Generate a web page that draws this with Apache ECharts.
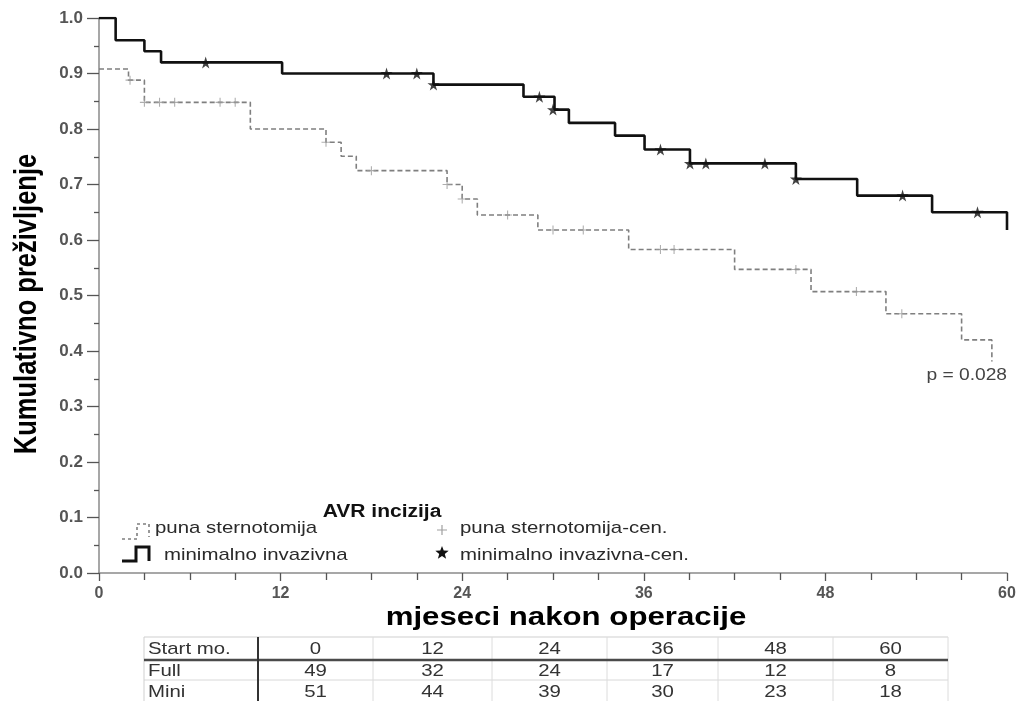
<!DOCTYPE html>
<html>
<head>
<meta charset="utf-8">
<script src="https://cdn.jsdelivr.net/npm/echarts@6/dist/echarts.min.js"></script>
<style>html,body{margin:0;padding:0;background:#fff}#c{width:1020px;height:701px}</style>
</head>
<body>
<div id="c"></div>
<script>
// ---------- data ----------
const xTicks = [0, 12, 24, 36, 48, 60];
// Kaplan-Meier steps: [month, survival after that month]
const fullSteps = [[0,0.908],[1.95,0.888],[3.0,0.848],[10.0,0.800],[15.0,0.776],[16.0,0.751],[17.0,0.725],[23.0,0.700],[24.0,0.674],[25.0,0.645],[29.0,0.618],[35.0,0.583],[42.0,0.547],[47.05,0.507],[52.0,0.467],[57.0,0.420],[59.0,0.381]];
const miniSteps = [[0,1.0],[1.1,0.960],[3.0,0.940],[4.1,0.920],[12.1,0.900],[22.1,0.880],[28.05,0.858],[30.1,0.835],[31.05,0.811],[34.1,0.788],[36.05,0.763],[39.05,0.738],[46.05,0.710],[50.1,0.680],[55.05,0.650],[60.0,0.618]];
const fullCensored = [[2.05,0.888],[3.0,0.848],[4.0,0.848],[5.0,0.848],[8.0,0.848],[9.0,0.848],[15.0,0.776],[18.0,0.725],[23.0,0.700],[24.0,0.674],[27.0,0.645],[30.0,0.618],[32.0,0.618],[37.1,0.583],[38.0,0.583],[46.05,0.547],[50.05,0.507],[53.05,0.467]];
const miniCensored = [[7.05,0.920],[19.0,0.900],[21.0,0.900],[22.1,0.880],[29.1,0.858],[30.0,0.835],[37.1,0.763],[39.05,0.738],[40.1,0.738],[44.0,0.738],[46.05,0.710],[53.1,0.680],[58.05,0.650]];
const tableHeader = ['Start mo.', '0', '12', '24', '36', '48', '60'];
const tableFull = ['Full', 49, 32, 24, 17, 12, 8];
const tableMini = ['Mini', 51, 44, 39, 30, 23, 18];
const seriesNames = ['puna sternotomija', 'minimalno invazivna', 'puna sternotomija-cen.', 'minimalno invazivna-cen.'];
const legendTitle = 'AVR incizija';
const pText = 'p = 0.028';
const xTitle = 'mjeseci nakon operacije';
const yTitle = 'Kumulativno preživljenje';

// ---------- styles ----------
const SX = 1.2; // horizontal stretch of the reference's texts
const starPath = 'path://M50,0 L61,35 L98,35 L68,57 L79,91 L50,70 L21,91 L32,57 L2,35 L39,35 Z';
const crossPath = 'path://M4.4,0 L5.6,0 L5.6,4.4 L10,4.4 L10,5.6 L5.6,5.6 L5.6,10 L4.4,10 L4.4,5.6 L0,5.6 L0,4.4 L4.4,4.4 Z';
const FONT = '"Liberation Sans", Arial, sans-serif';

function starPoints(cx, cy, R) {
  const pts = [];
  for (let i = 0; i < 10; i++) {
    const r = i % 2 === 0 ? R : R * 0.42;
    const a = -Math.PI / 2 + i * Math.PI / 5;
    pts.push([cx + r * Math.cos(a), cy + r * Math.sin(a)]);
  }
  return pts;
}
function crossPoints(cx, cy, h, t) {
  return [[cx - t, cy - h], [cx + t, cy - h], [cx + t, cy - t], [cx + h, cy - t], [cx + h, cy + t], [cx + t, cy + t],
          [cx + t, cy + h], [cx - t, cy + h], [cx - t, cy + t], [cx - h, cy + t], [cx - h, cy - t], [cx - t, cy - t]];
}

const chart = echarts.init(document.getElementById('c'));

const graphics = [];
function txt(x, y, s, o, extra) {
  graphics.push(Object.assign({
    type: 'text', x: x, y: y, scaleX: SX, z: 10,
    style: Object.assign({ text: String(s), font: '17px ' + FONT, fill: '#2a2a2a', textAlign: 'left', textVerticalAlign: 'middle' }, o || {})
  }, extra || {}));
}
function line(pts, stroke, w, dash) {
  graphics.push({ type: 'polyline', z: 10, shape: { points: pts }, style: { stroke: stroke, lineWidth: w, fill: null, lineDash: dash || null } });
}

// y title (rotated, glyphs stretched like the reference)
txt(28, 304, yTitle, { font: 'bold 25.5px ' + FONT, fill: '#000', textAlign: 'center' }, { rotation: Math.PI / 2, scaleX: 1, scaleY: 1.2 });
// x title
txt(566, 618, xTitle, { font: 'bold 26px ' + FONT, fill: '#000', textAlign: 'center' });
// p-value
txt(1007, 376, pText, { font: '16px ' + FONT, fill: '#444', textAlign: 'right' });

// legend
txt(382, 512, legendTitle, { font: 'bold 17.5px ' + FONT, fill: '#111', textAlign: 'center' });
line([[122, 539], [137, 539], [137, 524], [146, 524], [149, 524], [149, 537]], '#7f7f7f', 1.6, [3, 3]);
txt(155, 528, seriesNames[0]);
line([[122, 561], [136, 561], [136, 547], [149, 547], [149, 561]], '#111', 3);
txt(164, 555, seriesNames[1]);
graphics.push({ type: 'polygon', z: 10, shape: { points: crossPoints(442, 530, 5, 0.6) }, style: { fill: '#a0a0a0' } });
txt(460, 528, seriesNames[2]);
graphics.push({ type: 'polygon', z: 10, shape: { points: starPoints(442, 553, 7) }, style: { fill: '#111' } });
txt(460, 555, seriesNames[3]);

// number-at-risk table
const tL = 144, tR = 948, tTop = 637, tBot = 701;
const colB = [258, 373, 492, 607, 718, 833, 948];
line([[tL, tTop], [tR, tTop]], '#cfcfcf', 1);
line([[tL, 680], [tR, 680]], '#d8d8d8', 1);
line([[tL, tTop], [tL, tBot]], '#cfcfcf', 1);
for (let i = 1; i < colB.length; i++) line([[colB[i], tTop], [colB[i], tBot]], '#dcdcdc', 1);
line([[tL, 660], [tR, 660]], '#4a4a4a', 2.5);
line([[colB[0], tTop], [colB[0], tBot]], '#333', 2);
const rows = [tableHeader, tableFull, tableMini];
const rowY = [649, 671, 692];
rows.forEach((r, ri) => {
  r.forEach((v, ci) => {
    if (ci === 0) txt(148, rowY[ri], v, { font: '17px ' + FONT, fill: '#333' });
    else txt((colB[ci - 1] + colB[ci]) / 2, rowY[ri], v, { font: '17px ' + FONT, fill: '#333', textAlign: 'center' });
  });
});

chart.setOption({
  animation: false,
  backgroundColor: '#fff',
  grid: { left: 99, right: 13, top: 18, bottom: 128, containLabel: false, outerBoundsMode: 'none' },
  xAxis: {
    type: 'value', min: 0, max: 60, interval: 12,
    axisLine: { show: true, onZero: false, lineStyle: { color: '#8a8a8a', width: 1.5 } },
    axisTick: { show: true, length: 8, lineStyle: { color: '#555', width: 1.3 } },
    minorTick: { show: true, splitNumber: 4, length: 7, lineStyle: { color: '#555', width: 1.3 } },
    splitLine: { show: false },
    axisLabel: { margin: 13, color: '#555', fontWeight: 'bold', fontSize: 16, fontFamily: FONT, formatter: v => xTicks.indexOf(v) >= 0 ? String(v) : '' }
  },
  yAxis: {
    type: 'value', min: 0, max: 1, interval: 0.1,
    axisLine: { show: true, lineStyle: { color: '#8a8a8a', width: 1.5 } },
    axisTick: { show: true, length: 12, lineStyle: { color: '#555', width: 1.3 } },
    minorTick: { show: true, splitNumber: 2, length: 5, lineStyle: { color: '#555', width: 1.3 } },
    splitLine: { show: false },
    axisLabel: { margin: 16, color: '#555', fontWeight: 'bold', fontSize: 17, fontFamily: FONT, formatter: v => v.toFixed(1) }
  },
  series: [
    { name: seriesNames[0], type: 'line', step: 'end', data: fullSteps, showSymbol: false, symbol: 'none',
      lineStyle: { color: '#7f7f7f', width: 1.6, type: [5, 3] }, z: 2 },
    { name: seriesNames[1], type: 'line', step: 'end', data: miniSteps, showSymbol: false, symbol: 'none',
      lineStyle: { color: '#111', width: 2.6 }, z: 3 },
    { name: seriesNames[2], type: 'scatter', data: fullCensored, symbol: crossPath, symbolSize: 9,
      itemStyle: { color: '#9a9a9a' }, z: 4 },
    { name: seriesNames[3], type: 'scatter', data: miniCensored, symbol: starPath, symbolSize: 12,
      itemStyle: { color: '#111' }, z: 5 }
  ],
  graphic: graphics
});
</script>
</body>
</html>
